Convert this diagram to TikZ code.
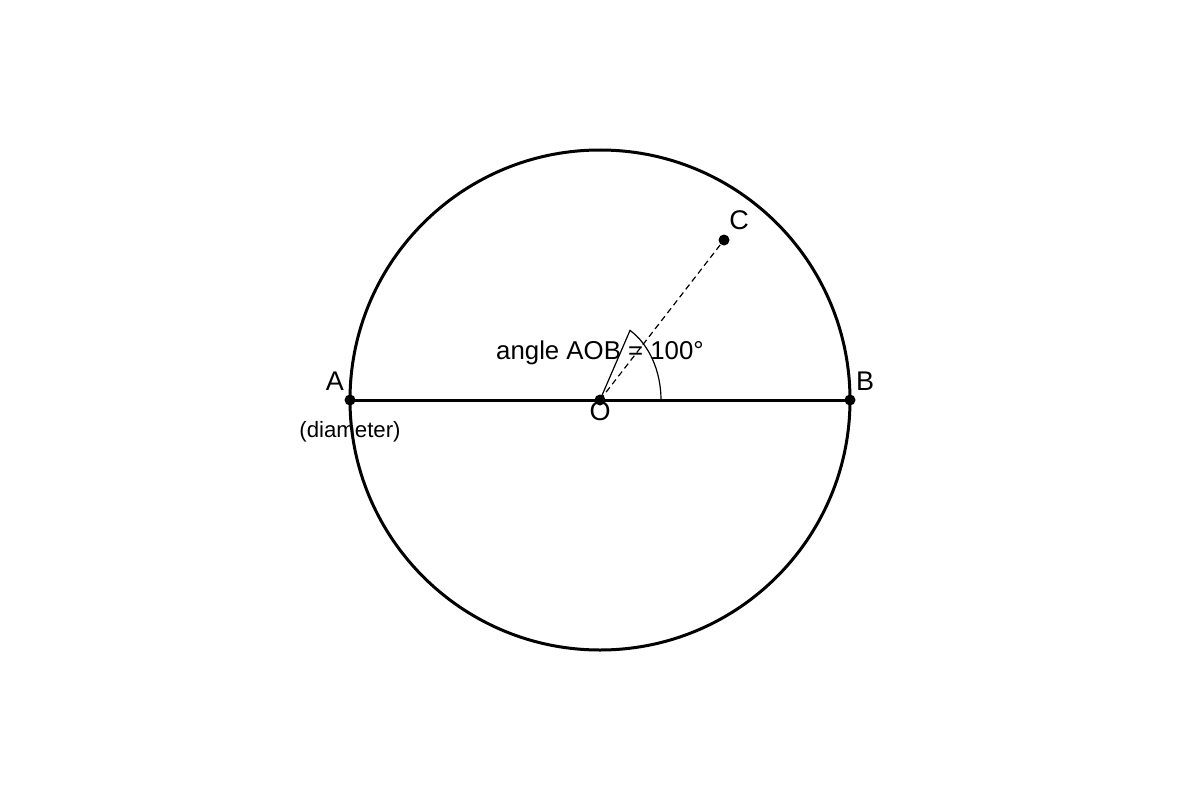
\documentclass[tikz,border=0pt]{standalone}
\usepackage{fontspec}
\setmainfont{Liberation Sans}
\begin{document}
\begin{tikzpicture}[x=0.5pt,y=0.5pt,
  dot/.style={circle,fill=black,inner sep=0pt,minimum size=5.5pt},
  ptlabel/.style={font=\fontsize{13.5}{16}\selectfont},
  txt/.style={font=\fontsize{12.9}{15}\selectfont},
  small/.style={font=\fontsize{11.1}{14}\selectfont}]
\useasboundingbox (0,0) rectangle (1200,800);
\coordinate (O) at (600,400);
\draw[line width=1.5pt] (O) circle[radius=250];
\node[dot] (A) at (350,400) {};
\node[dot] (B) at (850,400) {};
\node[dot] (C) at (724,560) {};
\draw[line width=1.5pt] (A.center) -- (B.center);
\draw[line width=0.6pt] (661,400) arc[start angle=0,end angle=60.5,x radius=61,y radius=80] -- (O);
\draw[line width=0.6pt,dash pattern=on 3pt off 2pt] (O) -- (C.center);
\node[dot] (Odot) at (O) {};
\node[ptlabel] (lA) at (335,419) {A};
\node[ptlabel] (lB) at (865,419) {B};
\node[ptlabel] (lC) at (739,580) {C};
\node[ptlabel] (lO) at (600,389) {O};
\node[small] (ld) at (350,368) {(diameter)};
\node[txt] (ang) at (600,447) {angle AOB = 100°};
\end{tikzpicture}
\end{document}
